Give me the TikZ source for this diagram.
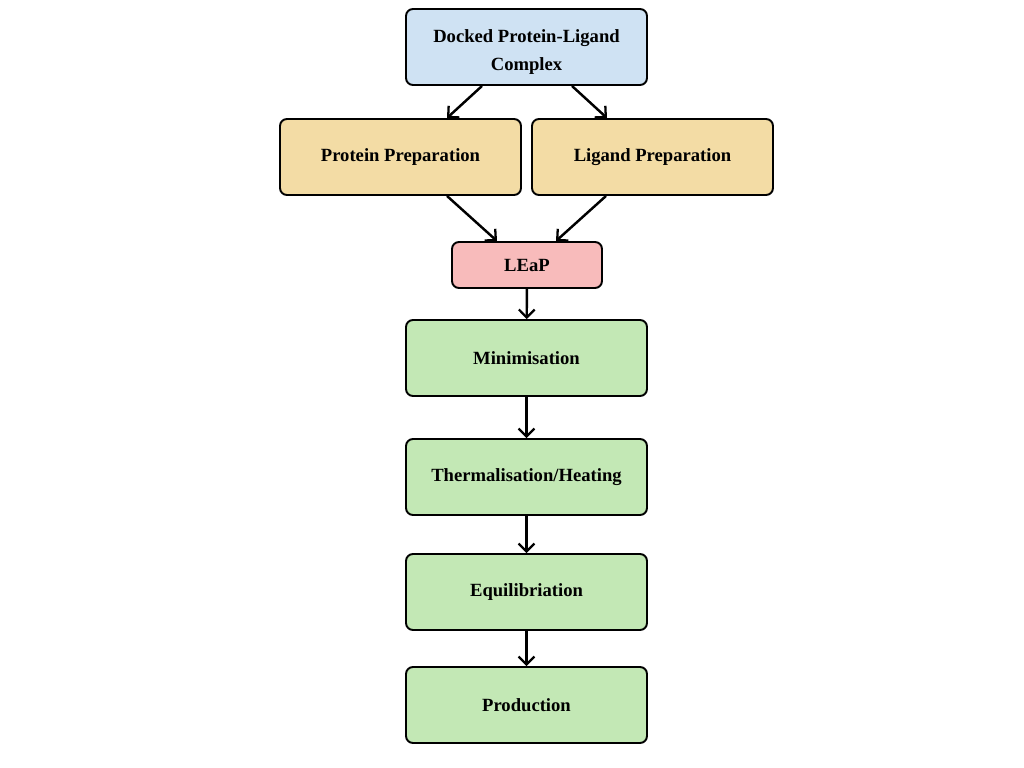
\documentclass[tikz,border=0pt]{standalone}
\usepackage{fontspec}
\setmainfont{Liberation Serif}
\usepackage{xcolor}
\usetikzlibrary{positioning, arrows.meta}
\definecolor{dockblue}{HTML}{CFE2F3}
\definecolor{prepyellow}{HTML}{F3DCA5}
\definecolor{leappink}{HTML}{F8BBBB}
\definecolor{mdgreen}{HTML}{C3E8B5}
\tikzset{
	box/.style={draw=black, line width=1.1pt, rounded corners=0.14cm, minimum width=4.82cm, minimum height=1.52cm, align=center, font=\fontsize{10.6}{15.6}\selectfont\bfseries, inner sep=0pt},
	flow/.style={-{Straight Barb[length=4.5pt, width=9pt, line width=1.3pt]}, line width=1.4pt}
}
\begin{document}
\begin{tikzpicture}
		\useasboundingbox (0,0) rectangle (20.48,-15.36);
		\node[box, fill=dockblue] (dock) at (10.53,-0.94) {\rule{0pt}{13pt}Docked Protein-Ligand\\Complex};
		\node[box, fill=prepyellow] (prot) at (8.01,-3.14) {Protein Preparation};
		\node[box, fill=prepyellow] (lig) at (13.05,-3.14) {Ligand Preparation};
		\node[box, fill=leappink, minimum width=3cm, minimum height=0.92cm] (leap) at (10.54,-5.30) {LEaP};
		\node[box, fill=mdgreen] (mini) at (10.53,-7.16) {Minimisation};
		\node[box, fill=mdgreen] (therm) at (10.53,-9.54) {Thermalisation/Heating};
		\node[box, fill=mdgreen] (equil) at (10.53,-11.84) {Equilibriation};
		\node[box, fill=mdgreen] (prod) at (10.53,-14.10) {Production};
		
		\draw[flow] ([xshift=-0.89cm]dock.south) -- ([xshift=0.93cm]prot.north);
		\draw[flow] ([xshift=0.91cm]dock.south) -- ([xshift=-0.91cm]lig.north);
		\draw[flow] ([xshift=0.93cm]prot.south) -- ([xshift=-0.6cm]leap.north);
		\draw[flow] ([xshift=-0.93cm]lig.south) -- ([xshift=0.58cm]leap.north);
		\draw[flow] (leap) -- (mini);
		\draw[flow] (mini) -- (therm);
		\draw[flow] (therm) -- (equil);
		\draw[flow] (equil) -- (prod);
	\end{tikzpicture}
\end{document}
